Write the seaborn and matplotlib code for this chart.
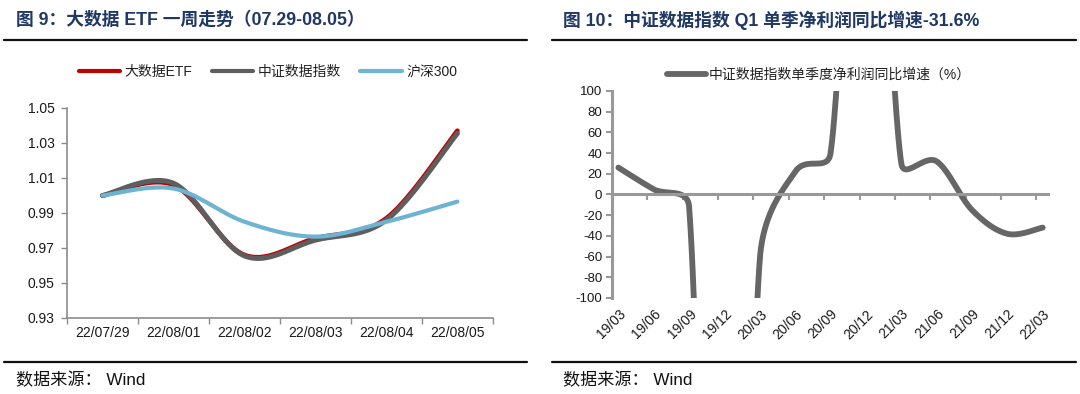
import numpy as np
import pandas as pd
import seaborn as sns
import matplotlib.pyplot as plt
from matplotlib.lines import Line2D

################################
#            Data              #
################################

# Left panel: 大数据ETF one-week trend (normalised)
days = ['22/07/29', '22/08/01', '22/08/02', '22/08/03', '22/08/04', '22/08/05']
etf = [1.000, 1.006, 0.966, 0.9755, 0.987, 1.037]
csi_data = [1.000, 1.007, 0.9655, 0.9745, 0.986, 1.0355]
hs300 = [1.000, 1.004, 0.985, 0.9765, 0.985, 0.9965]

# Right panel: quarterly net profit YoY (%), 19/12 and 20/12 are far off the axis
quarters = ['19/03', '19/06', '19/09', '19/12', '20/03', '20/06', '20/09',
            '20/12', '21/03', '21/06', '21/09', '21/12', '22/03']
profit_yoy = [26, 5, -12, -900, -62, 22, 40, 500, 30, 32, -15, -38, -32]

left_ticks = [0.93, 0.95, 0.97, 0.99, 1.01, 1.03, 1.05]
right_ticks = list(range(-100, 101, 20))

################################
#          Styling             #
################################

sns.set_theme(style='white')
plt.rcParams['font.family'] = ['Liberation Sans', 'Noto Sans CJK SC']
plt.rcParams['axes.unicode_minus'] = False

NAVY = '#1F3864'
SPINE = '#8C8C8C'
RED = '#C00000'
GREY = '#5E5E5E'
BLUE = '#6DB4D2'


def excel_smooth(ax, xs, ys, n=60):
    # Excel-like smoothed line, built in screen space from the data points
    pts = ax.transData.transform(np.column_stack([xs, ys]).astype(float))
    out = [pts[0]]
    m = len(pts)
    t = np.linspace(0, 1, n)[1:, None]
    for i in range(m - 1):
        p0 = pts[i - 1] if i > 0 else pts[i]
        p1, p2 = pts[i], pts[i + 1]
        p3 = pts[i + 2] if i + 2 < m else pts[i + 1]
        d12 = np.hypot(*(p2 - p1))
        d02 = np.hypot(*(p2 - p0))
        d13 = np.hypot(*(p3 - p1))
        f1 = 1 / 6 if d02 / 6 < d12 / 2 else d12 / (2 * d02)
        f2 = 1 / 6 if d13 / 6 < d12 / 2 else d12 / (2 * d13)
        c1 = p1 + f1 * (p2 - p0)
        c2 = p2 - f2 * (p3 - p1)
        seg = ((1 - t) ** 3) * p1 + 3 * ((1 - t) ** 2) * t * c1 + 3 * (1 - t) * t ** 2 * c2 + t ** 3 * p2
        out.extend(seg)
    back = ax.transData.inverted().transform(np.array(out))
    return pd.DataFrame({'x': back[:, 0], 'y': back[:, 1]})


fig = plt.figure(figsize=(10.8, 3.94), dpi=100)

################################
#         Left panel           #
################################

ax1 = fig.add_axes([0.0620, 0.1929, 0.3944, 0.5330])
xl = (-0.5, len(days) - 0.5)
yl = (0.93, 1.05)
ax1.set_xlim(*xl)
ax1.set_ylim(*yl)

pos = np.arange(len(days))
for vals, col, lw, name in [(etf, RED, 3.4, '大数据ETF'),
                            (csi_data, GREY, 3.6, '中证数据指数'),
                            (hs300, BLUE, 3.0, '沪深300')]:
    d = excel_smooth(ax1, pos, vals)
    sns.lineplot(data=d, x='x', y='y', sort=False, estimator=None, color=col,
                 linewidth=lw, solid_capstyle='round', ax=ax1, legend=False)

ax1.set_xlim(*xl)
ax1.set_ylim(*yl)
ax1.set_xlabel('')
ax1.set_ylabel('')
ax1.set_yticks(left_ticks)
ax1.set_yticklabels([f'{v:.2f}' for v in left_ticks])
ax1.set_xticks(np.arange(-0.5, len(days), 1.0))
ax1.set_xticklabels([])
ax1.set_xticks(pos, minor=True)
ax1.set_xticklabels(days, minor=True)
ax1.tick_params(axis='x', which='major', length=4, width=1, color=SPINE, direction='out', bottom=True)
ax1.tick_params(axis='x', which='minor', length=0, pad=6, labelsize=10, labelcolor='#1a1a1a')
ax1.tick_params(axis='y', length=4, width=1, color=SPINE, direction='out', left=True, pad=5,
                labelsize=10, labelcolor='#1a1a1a')
for s in ['top', 'right']:
    ax1.spines[s].set_visible(False)
for s in ['left', 'bottom']:
    ax1.spines[s].set_color(SPINE)
    ax1.spines[s].set_linewidth(1.2)

h1 = [Line2D([], [], color=RED, lw=3, solid_capstyle='round'),
      Line2D([], [], color=GREY, lw=3, solid_capstyle='round'),
      Line2D([], [], color=BLUE, lw=3, solid_capstyle='round')]
fig.legend(h1, ['大数据ETF', '中证数据指数', '沪深300'], ncol=3, frameon=False,
           loc='center', bbox_to_anchor=(0.248, 0.817), fontsize=10,
           handlelength=3.0, handletextpad=0.3, columnspacing=1.4,
           labelcolor='#222222')

################################
#         Right panel          #
################################

ax2 = fig.add_axes([0.5667, 0.2437, 0.4037, 0.5254])
xr = (-0.18, 12.15)
yr = (-100, 100)
ax2.set_xlim(*xr)
ax2.set_ylim(*yr)

qpos = np.arange(len(quarters))
d2 = excel_smooth(ax2, qpos, profit_yoy)
sns.lineplot(data=d2, x='x', y='y', sort=False, estimator=None, color='#666666',
             linewidth=4.2, solid_capstyle='round', ax=ax2, legend=False)

ax2.set_xlim(*xr)
ax2.set_ylim(*yr)
ax2.set_xlabel('')
ax2.set_ylabel('')
ax2.set_yticks(right_ticks)
ax2.set_yticklabels([str(v) for v in right_ticks])
ax2.spines['bottom'].set_position(('data', 0))
ax2.set_xticks(qpos - 0.18)
ax2.set_xticklabels([])
ax2.set_xticks(qpos, minor=True)
ax2.set_xticklabels(quarters, minor=True)
ax2.tick_params(axis='x', which='major', length=4, width=1.5, color='#999999', direction='out', bottom=True)
ax2.tick_params(axis='x', which='minor', length=0, pad=81, labelsize=10, labelcolor='#1a1a1a')
for lab in ax2.get_xticklabels(minor=True):
    lab.set_rotation(45)
    lab.set_ha('right')
    lab.set_rotation_mode('anchor')
ax2.tick_params(axis='y', length=4, width=1.5, color='#999999', direction='out', left=True, pad=3,
                labelsize=9.5, labelcolor='#1a1a1a')
for s in ['top', 'right']:
    ax2.spines[s].set_visible(False)
for s in ['left', 'bottom']:
    ax2.spines[s].set_color('#999999')
    ax2.spines[s].set_linewidth(2.2)

h2 = [Line2D([], [], color='#666666', lw=4.2, solid_capstyle='round')]
fig.legend(h2, ['中证数据指数单季度净利润同比增速（%）'], frameon=False, loc='center',
           bbox_to_anchor=(0.758, 0.810), fontsize=10, handlelength=2.8,
           handletextpad=0.2, labelcolor='#222222')

################################
#    Titles, rules, sources    #
################################

fig.text(16 / 1080, 1 - 20 / 394, '图 9：大数据 ETF 一周走势（07.29-08.05）', color=NAVY,
         fontsize=12.8, fontweight='bold', va='center', ha='left')
fig.text(563 / 1080, 1 - 20 / 394, '图 10：中证数据指数 Q1 单季净利润同比增速-31.6%', color=NAVY,
         fontsize=12.8, fontweight='bold', va='center', ha='left')

for x0, x1 in [(4, 527), (552, 1076)]:
    for yy in (40, 362):
        fig.add_artist(Line2D([x0 / 1080, x1 / 1080], [1 - yy / 394, 1 - yy / 394],
                              color='#111111', lw=1.6, transform=fig.transFigure))

fig.text(16 / 1080, 1 - 380 / 394, '数据来源： Wind', fontsize=12.3, color='#111111', va='center', ha='left')
fig.text(563 / 1080, 1 - 380 / 394, '数据来源： Wind', fontsize=12.3, color='#111111', va='center', ha='left')

fig.savefig('out.png', dpi=100)
